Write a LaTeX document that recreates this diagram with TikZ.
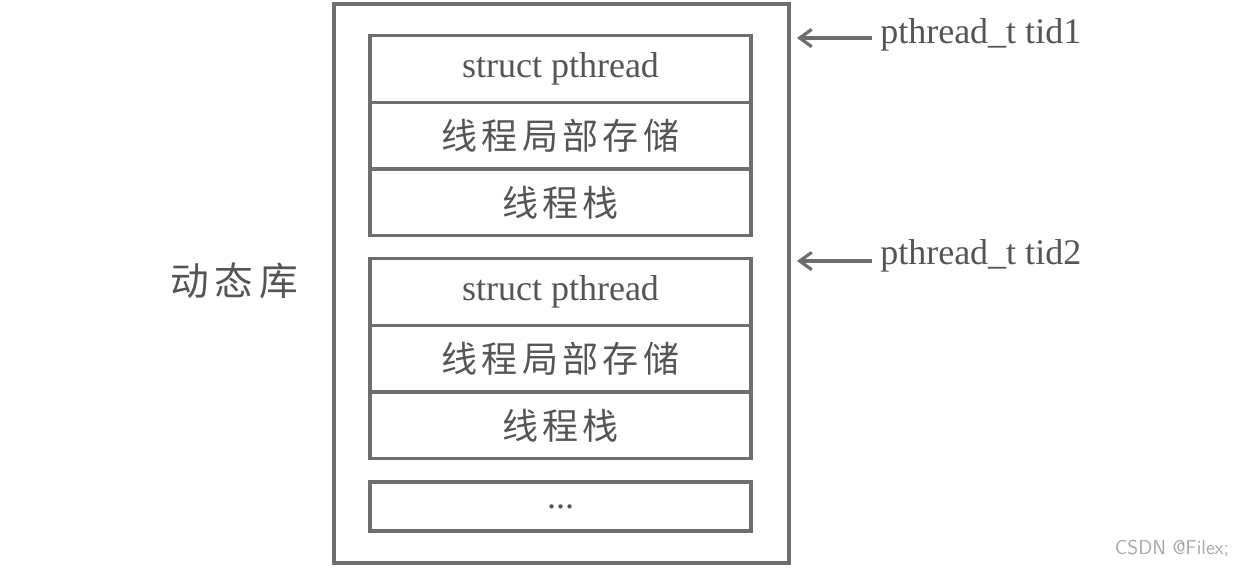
\documentclass[tikz,border=0pt]{standalone}
\usetikzlibrary{arrows.meta}
\usepackage{fontspec}
\setmainfont{Liberation Serif}
\newfontfamily\cjk{Noto Sans CJK SC}[Scale=1]
\definecolor{ln}{HTML}{6E6E6E}
\definecolor{tx}{HTML}{555555}
\begin{document}
\begin{tikzpicture}[x=0.75pt,y=-0.75pt,
  box/.style={draw=ln,line width=2.4pt},
  cell/.style={draw=ln,line width=2.4pt,minimum width=285.75pt,minimum height=50pt,inner sep=0pt,text=tx},
  en/.style={font=\fontsize{27}{30}\selectfont},
  zh/.style={font=\cjk\fontsize{27}{30}\selectfont\addfontfeature{LetterSpace=12}},
  lab/.style={text=tx,font=\fontsize{27}{30}\selectfont,anchor=west,inner sep=0pt},
  arr/.style={ln,line width=2.4pt,-{Straight Barb[length=9pt,width=13pt]}}]
\useasboundingbox (0,0) rectangle (1247,569);
\node[box,minimum width=341.25pt,minimum height=419.25pt,inner sep=0pt] (outer) at (561.5,283.5) {};
\node[cell,en] (a1) at (560.5,69) {struct pthread};
\node[cell,zh] (a2) at (560.5,135.5) {线程局部存储};
\node[cell,zh] (a3) at (560.5,202.5) {线程栈};
\node[cell,en] (b1) at (560.5,292) {struct pthread};
\node[cell,zh] (b2) at (560.5,358.5) {线程局部存储};
\node[cell,zh] (b3) at (560.5,425.5) {线程栈};
\node[cell,en,minimum height=36.75pt] (c) at (560.5,506.5) {...};
\node[text=tx,font=\cjk\fontsize{29}{31}\selectfont\addfontfeature{LetterSpace=15}] (dl) at (234,281) {动态库};
\node[lab] (t1) at (880,35) {pthread\_t tid1};
\node[lab] (t2) at (880,256) {pthread\_t tid2};
\coordinate (e1) at (797,38);
\coordinate (e2) at (797,261);
\draw[arr] (t1.west|-e1) ++(-8,0) -- (e1);
\draw[arr] (t2.west|-e2) ++(-8,0) -- (e2);
\node[text=gray!70,font=\sffamily\fontsize{15}{16}\selectfont] (wm) at (1172,549) {CSDN @Filex;};
\end{tikzpicture}
\end{document}
